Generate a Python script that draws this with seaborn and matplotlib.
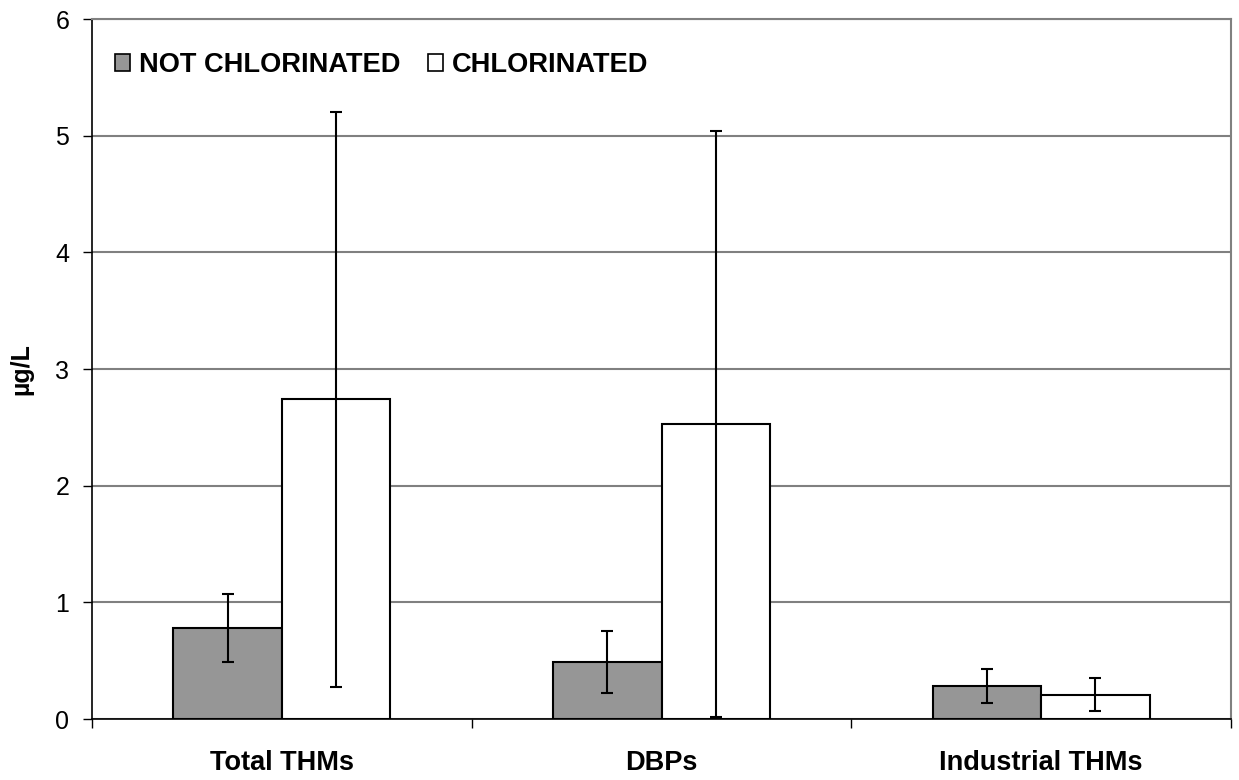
import matplotlib
matplotlib.use("Agg")
import matplotlib.pyplot as plt
from matplotlib.patches import Patch
import seaborn as sns
import pandas as pd
import numpy as np

categories = ["Total THMs", "DBPs", "Industrial THMs"]
groups = ["NOT CHLORINATED", "CHLORINATED"]
not_chlorinated = [0.78, 0.49, 0.285]
chlorinated = [2.74, 2.53, 0.21]
not_chlorinated_err = [0.29, 0.265, 0.145]
chlorinated_err = [2.465, 2.51, 0.14]
y_ticks = [0, 1, 2, 3, 4, 5, 6]

sns.set_style("white")
plt.rcParams["font.family"] = ["Liberation Sans", "DejaVu Sans"]
plt.rcParams["text.color"] = "black"
plt.rcParams["axes.labelcolor"] = "black"
plt.rcParams["xtick.color"] = "black"
plt.rcParams["ytick.color"] = "black"

df = pd.DataFrame({
    "category": categories * 2,
    "group": [groups[0]] * 3 + [groups[1]] * 3,
    "value": not_chlorinated + chlorinated,
})
errs = {groups[0]: not_chlorinated_err, groups[1]: chlorinated_err}
colors = {groups[0]: "#969696", groups[1]: "#ffffff"}

fig = plt.figure(figsize=(12.39, 7.8), dpi=100)
ax = fig.add_axes([0.0743, 0.0782, 0.9193, 0.8974])

sns.barplot(data=df, x="category", y="value", hue="group", order=categories,
            hue_order=groups, palette=colors, width=0.571, edgecolor="black",
            linewidth=1.5, errorbar=None, saturation=1, ax=ax, legend=False, zorder=3)

for cont, g in zip(ax.containers, groups):
    xs = [b.get_x() + b.get_width() / 2 for b in cont]
    hs = [b.get_height() for b in cont]
    ax.errorbar(xs, hs, yerr=errs[g], fmt="none", ecolor="black", elinewidth=1.5,
                capsize=4.6, capthick=1.5, zorder=4)

ax.set_xlim(-0.5, 2.5)
ax.set_ylim(0, 6)
ax.set_yticks(y_ticks)
ax.set_yticklabels([str(t) for t in y_ticks])
ax.yaxis.grid(True, color="#808080", lw=1.5, zorder=0)
ax.xaxis.grid(False)
ax.set_axisbelow(True)

for s in ["left", "bottom"]:
    ax.spines[s].set_color("black")
    ax.spines[s].set_linewidth(1.2)
for s in ["top", "right"]:
    ax.spines[s].set_color("#808080")
    ax.spines[s].set_linewidth(1.5)
ax.spines["bottom"].set_zorder(5)

ax.tick_params(axis="y", which="major", direction="out", length=6.5, width=1, color="black",
               labelcolor="black", labelsize=18, pad=10, left=True)
ax.tick_params(axis="x", which="major", length=0, pad=22, labelsize=19.5, labelcolor="black")
ax.set_xticks([-0.5, 0.5, 1.5, 2.5], minor=True)
ax.tick_params(axis="x", which="minor", direction="out", length=6.5, width=1, color="black", bottom=True)
for lab in ax.get_xticklabels():
    lab.set_fontweight("bold")

ax.set_xlabel("")
ax.set_ylabel("µg/L", fontsize=18, fontweight="bold", color="black")
ax.yaxis.set_label_coords(-0.0518, 0.5)

handles = [Patch(facecolor=colors[g], edgecolor="black", linewidth=1.2, label=g) for g in groups]
leg = ax.legend(handles=handles, loc="center left", bbox_to_anchor=(0.0202, 0.934),
                ncol=2, frameon=False, borderpad=0, borderaxespad=0,
                handlelength=0.56, handleheight=0.56, handletextpad=0.32,
                columnspacing=1.0, prop={"size": 19.6, "weight": "bold"})
for t in leg.get_texts():
    t.set_color("black")

fig.savefig("out.png", dpi=100, facecolor="white")
